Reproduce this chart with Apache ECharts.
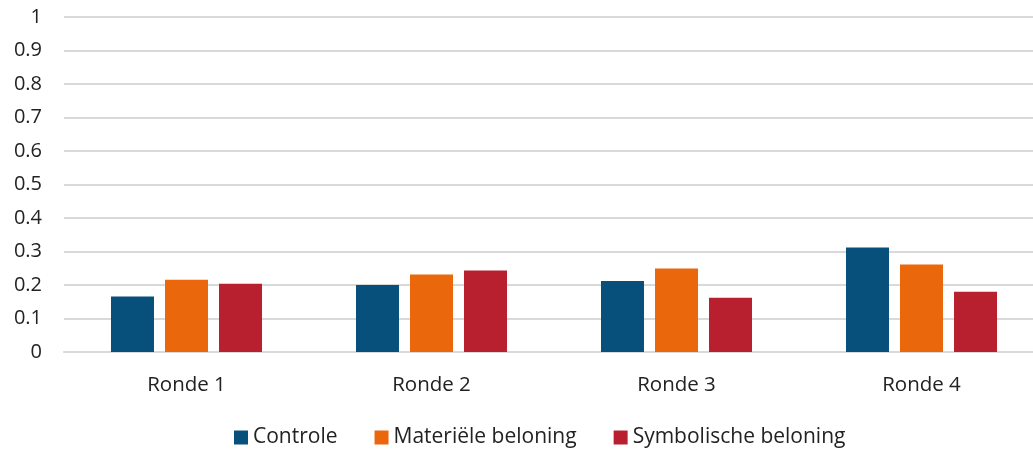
<!DOCTYPE html>
<html><head><meta charset="utf-8">
<script src="https://cdn.jsdelivr.net/npm/echarts@6/dist/echarts.min.js"></script>
<style>html,body{margin:0;padding:0;background:#fff;overflow:hidden;width:1033px;height:450px}#c{width:1045px;height:450px}</style>
</head><body><div id="c"></div>
<script>
var categories = ['Ronde 1', 'Ronde 2', 'Ronde 3', 'Ronde 4'];
var seriesNames = ['Controle', 'Materiële beloning', 'Symbolische beloning'];
var controle = [0.166, 0.200, 0.212, 0.312];
var materiele = [0.216, 0.231, 0.249, 0.261];
var symbolische = [0.204, 0.243, 0.162, 0.180];
var colors = ['#08507C', '#EB670B', '#B8202F'];
var font = 'Open Sans';

var chart = echarts.init(document.getElementById('c'), null, {renderer: 'canvas'});
var vals = [controle, materiele, symbolische];
chart.setOption({
  animation: false,
  textStyle: {fontFamily: font},
  grid: {left: 64, top: 17, width: 980, height: 335, containLabel: false},
  legend: {
    top: 427, left: 234, padding: 0,
    icon: 'rect', itemWidth: 14, itemHeight: 14, itemGap: 37,
    textStyle: {fontFamily: font, fontSize: 21, color: '#222'},
    data: seriesNames
  },
  xAxis: {
    type: 'category', data: categories,
    axisLine: {lineStyle: {color: '#d9d9d9', width: 2}},
    axisTick: {show: false},
    axisLabel: {fontFamily: font, fontSize: 20.5, color: '#222', margin: 23}
  },
  yAxis: {
    type: 'value', min: 0, max: 1, interval: 0.1,
    axisLine: {show: false}, axisTick: {show: false},
    splitLine: {lineStyle: {color: '#d9d9d9', width: 2}},
    axisLabel: {fontFamily: font, fontSize: 20, color: '#222', margin: 22,
      formatter: function (v) { return String(Math.round(v * 10) / 10); }}
  },
  series: seriesNames.map(function (n, i) {
    return {
      name: n, type: 'bar', data: vals[i],
      barWidth: 43, barGap: '25.6%', barCategoryGap: '38%',
      itemStyle: {color: colors[i]}
    };
  })
});
</script></body></html>
